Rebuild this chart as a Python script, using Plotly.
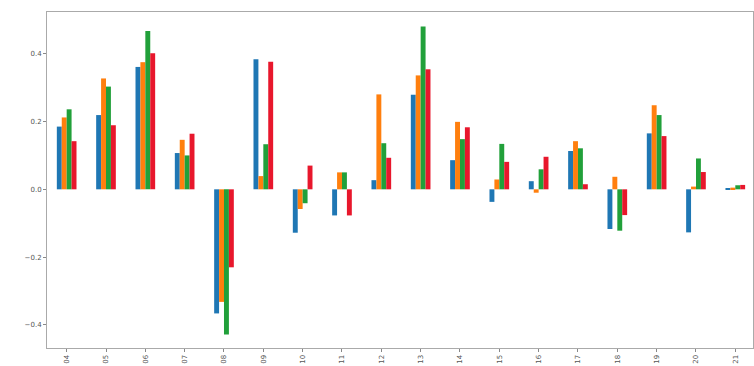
import plotly.graph_objects as go

categories = ["04", "05", "06", "07", "08", "09", "10", "11", "12",
              "13", "14", "15", "16", "17", "18", "19", "20", "21"]

series_a = [0.185, 0.219, 0.361, 0.107, -0.366, 0.384, -0.128, -0.077, 0.027,
            0.279, 0.086, -0.037, 0.024, 0.113, -0.117, 0.165, -0.127, 0.001]
series_b = [0.212, 0.327, 0.375, 0.146, -0.332, 0.039, -0.058, 0.050, 0.280,
            0.336, 0.199, 0.029, -0.010, 0.142, 0.037, 0.248, 0.008, 0.005]
series_c = [0.236, 0.303, 0.467, 0.100, -0.428, 0.133, -0.041, 0.050, 0.136,
            0.480, 0.148, 0.134, 0.059, 0.121, -0.122, 0.219, 0.091, 0.012]
series_d = [0.142, 0.189, 0.401, 0.164, -0.230, 0.376, 0.070, -0.077, 0.093,
            0.354, 0.183, 0.081, 0.096, 0.015, -0.076, 0.157, 0.051, 0.013]

series_names = ["a", "b", "c", "d"]
colors = ["#1f77b4", "#ff7f0e", "#21a03a", "#e8172c"]

y_tickvals = [-0.4, -0.2, 0.0, 0.2, 0.4]
y_ticktext = ["\u22120.4", "\u22120.2", "0.0", "0.2", "0.4"]

fig = go.Figure()
for name, vals, col in zip(series_names, [series_a, series_b, series_c, series_d], colors):
    fig.add_trace(go.Bar(x=categories, y=vals, name=name,
                         marker=dict(color=col, line=dict(width=0))))

axis_font = dict(family="DejaVu Sans", size=7, color="#555555")

fig.update_layout(
    width=754, height=366,
    margin=dict(l=47, r=1, t=12, b=18),
    paper_bgcolor="white", plot_bgcolor="white",
    barmode="group", bargap=0.5, bargroupgap=0,
    showlegend=False,
    xaxis=dict(type="category", range=[-0.5, 17.45],
               tickangle=-90, tickfont=axis_font,
               ticks="outside", ticklen=3, tickcolor="#888888",
               showline=True, linecolor="#aaaaaa", linewidth=1, mirror=True,
               showgrid=False, zeroline=False),
    yaxis=dict(range=[-0.468, 0.523],
               tickvals=y_tickvals, ticktext=y_ticktext, tickfont=axis_font,
               ticks="outside", ticklen=3, tickcolor="#888888",
               showline=True, linecolor="#aaaaaa", linewidth=1, mirror=True,
               showgrid=False, zeroline=False),
)

fig.write_html("out.html")
